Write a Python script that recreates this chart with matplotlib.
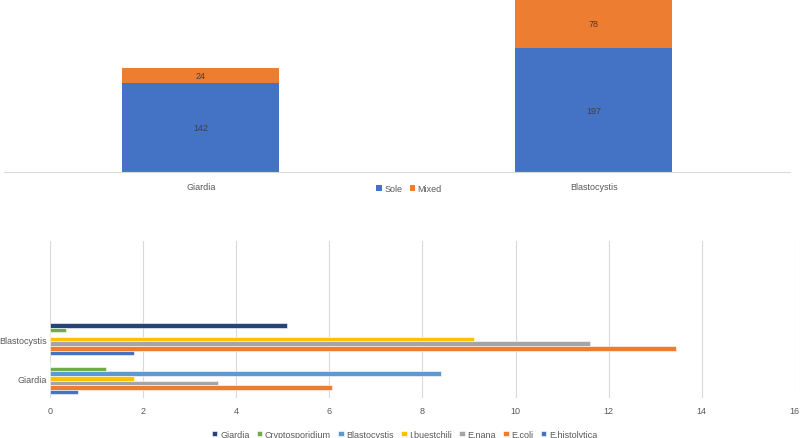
import matplotlib.pyplot as plt
import numpy as np

plt.rcParams["font.family"] = ["Liberation Sans", "DejaVu Sans"]

# top chart: sole vs mixed infections
top_categories = ["Giardia", "Blastocystis"]
sole_counts = [142, 197]
mixed_counts = [24, 78]

# bottom chart: co-infection percentages per group
bottom_categories = ["Giardia", "Blastocystis", "", ""]
series_names = [
    "Giardia",
    "Cryptosporidium",
    "Blastocystis",
    "I.buestchili",
    "E.nana",
    "E.coli",
    "E.histolytica",
]
series_values = {
    "Giardia": [0.0, 5.1],
    "Cryptosporidium": [1.2, 0.35],
    "Blastocystis": [8.4, 0.0],
    "I.buestchili": [1.8, 9.1],
    "E.nana": [3.6, 11.6],
    "E.coli": [6.05, 13.45],
    "E.histolytica": [0.6, 1.8],
}
series_colors = {
    "Giardia": "#264478",
    "Cryptosporidium": "#70AD47",
    "Blastocystis": "#5B9BD5",
    "I.buestchili": "#FFC000",
    "E.nana": "#A5A5A5",
    "E.coli": "#ED7D31",
    "E.histolytica": "#4472C4",
}

text_color = "#595959"
grid_color = "#D9D9D9"
fs = 6.5

fig = plt.figure(figsize=(8, 4.39), dpi=100)

# ---- top stacked column chart ----
ax1 = fig.add_axes([0.0056, 0.606, 0.982, 0.394])
x = np.arange(len(top_categories))
bars_sole = ax1.bar(x, sole_counts, width=0.4, color="#4472C4", label="Sole")
bars_mixed = ax1.bar(
    x, mixed_counts, width=0.4, bottom=sole_counts, color="#ED7D31", label="Mixed"
)
ax1.bar_label(bars_sole, label_type="center", fontsize=fs, color="#404040")
ax1.bar_label(bars_mixed, label_type="center", fontsize=fs, color="#404040")
ax1.set_xlim(-0.5, 1.5)
ax1.set_ylim(0, 275)
ax1.set_xticks(x)
ax1.set_xticklabels(top_categories, fontsize=fs, color=text_color)
ax1.tick_params(axis="x", length=0, pad=7)
ax1.set_yticks([])
for side in ["top", "left", "right"]:
    ax1.spines[side].set_visible(False)
ax1.spines["bottom"].set_color(grid_color)
ax1.legend(
    loc="center",
    bbox_to_anchor=(0.515, -0.097),
    ncol=2,
    frameon=False,
    fontsize=fs,
    handlelength=0.6,
    handleheight=0.6,
    handletextpad=0.3,
    columnspacing=0.8,
    labelcolor=text_color,
)

# ---- bottom clustered horizontal bar chart ----
ax2 = fig.add_axes([0.0625, 0.0911, 0.931, 0.3576])
n_series = len(series_names)
bar_h = 0.117
y = np.arange(2)
for i, name in enumerate(series_names):
    offset = (n_series - 1) / 2 - i
    ax2.barh(
        y + offset * bar_h,
        series_values[name],
        height=bar_h,
        color=series_colors[name],
        edgecolor="white",
        linewidth=0.4,
        label=name,
        zorder=3,
    )
ax2.set_xlim(0, 16)
ax2.set_ylim(-0.5, 3.5)
ax2.set_xticks(np.arange(0, 17, 2))
ax2.set_yticks(np.arange(4))
ax2.set_yticklabels(bottom_categories, fontsize=fs, color=text_color)
ax2.tick_params(axis="x", length=0, pad=6, labelsize=fs, labelcolor=text_color)
ax2.tick_params(axis="y", length=0, pad=2)
ax2.grid(axis="x", color=grid_color, linewidth=0.8, zorder=0)
for side in ["top", "left", "right", "bottom"]:
    ax2.spines[side].set_visible(False)
ax2.legend(
    loc="center",
    bbox_to_anchor=(0.476, -0.23),
    ncol=7,
    frameon=False,
    fontsize=fs,
    handlelength=0.6,
    handleheight=0.6,
    handletextpad=0.3,
    columnspacing=0.8,
    labelcolor=text_color,
)

fig.savefig("out.png", dpi=100)
